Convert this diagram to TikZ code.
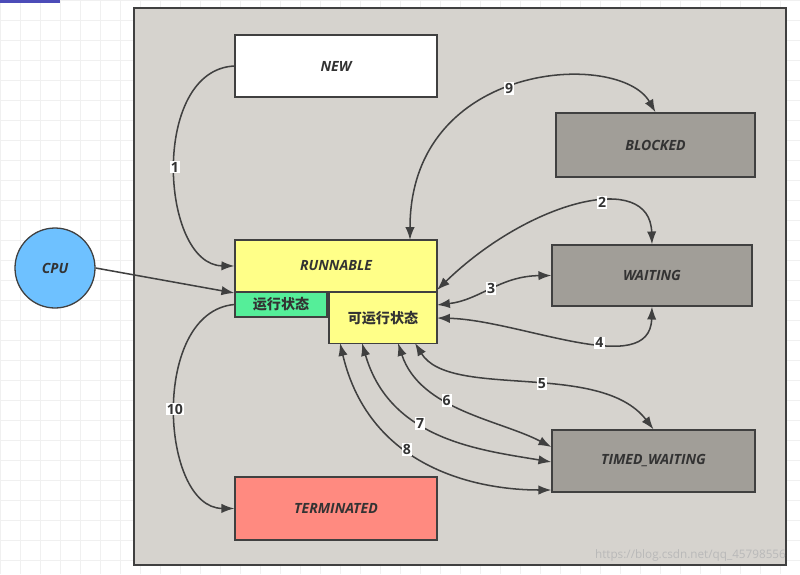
\documentclass[tikz,border=0pt]{standalone}
\usepackage{fontspec}
\setmainfont{Open Sans}
\newfontfamily\cjk{Noto Sans CJK SC}
\usetikzlibrary{arrows.meta}
\definecolor{frame}{HTML}{D6D3CE}
\definecolor{stategray}{HTML}{A19E98}
\definecolor{runyellow}{HTML}{FFFF88}
\definecolor{rungreen}{HTML}{55EE99}
\definecolor{termred}{HTML}{FF8A80}
\definecolor{cpublue}{HTML}{6EC1FF}
\tikzset{
  state/.style={draw=black!75, line width=1.1pt, font=\bfseries\itshape\large, text=black!80},
  flow/.style={draw=black!75, line width=1.3pt, -{Latex[length=11pt,width=8pt]}},
  both/.style={flow, {Latex[length=11pt,width=8pt]}-{Latex[length=11pt,width=8pt]}},
  num/.style={fill=white, inner sep=1pt, font=\bfseries\large, text=black!80}
}
\begin{document}
\begin{tikzpicture}[x=0.03cm, y=-0.03cm]
  \useasboundingbox (0,0) rectangle (800,574);
  % Raster
  \fill[white] (0,0) rectangle (800,574);
  \foreach \g in {0,20,...,800} \draw[black!6] (\g,0) -- (\g,574);
  \foreach \g in {0,20,...,560} \draw[black!6] (0,\g) -- (800,\g);
  \fill[blue!60!black!70] (0,0) rectangle (60,3);
  % Rahmen
  \draw[black!75, line width=1.1pt, fill=frame] (134,8) rectangle (786,565);
  % Zustaende
  \node[state, fill=white, minimum width=202*0.03cm, minimum height=62*0.03cm] (new) at (336,66) {NEW};
  \node[state, fill=stategray, minimum width=199*0.03cm, minimum height=64*0.03cm] (blocked) at (655.5,145) {BLOCKED};
  \node[state, fill=stategray, minimum width=200*0.03cm, minimum height=61*0.03cm] (waiting) at (652,275.5) {WAITING};
  \node[state, fill=stategray, minimum width=203*0.03cm, minimum height=62*0.03cm] (timed) at (653.5,461) {TIMED\_WAITING};
  \node[state, fill=runyellow, minimum width=202*0.03cm, minimum height=52*0.03cm] (runnable) at (336,266) {RUNNABLE};
  \node[state, fill=rungreen, font=\cjk\bfseries\large, minimum width=92*0.03cm, minimum height=25*0.03cm, inner sep=0pt] (running) at (281,304.5) {运行状态};
  \node[state, fill=runyellow, font=\cjk\bfseries\large, minimum width=108*0.03cm, minimum height=51*0.03cm, inner sep=0pt] (ready) at (383,318) {可运行状态};
  \node[state, fill=termred, minimum width=202*0.03cm, minimum height=63*0.03cm] (terminated) at (336,508.5) {TERMINATED};
  \node[state, circle, fill=cpublue, minimum size=80*0.03cm] (cpu) at (55,268) {CPU};
  % Hilfspunkte
  \coordinate (r9) at (410,240);
  \coordinate (r2) at (437,290);
  \coordinate (r3) at (437,305);
  \coordinate (r4) at (437,318);
  \coordinate (r5) at (415,343);
  \coordinate (r6) at (398,343);
  \coordinate (r7) at (362,343);
  \coordinate (r8) at (340,343);
  % Uebergaenge
  \draw[flow] (new.west) .. controls (150,70) and (160,265) .. node[num, pos=0.5] {1} (runnable.west);
  \draw[flow] (cpu.east) -- (running.west|-0,293);
  \draw[flow] (running.west) .. controls (150,312) and (160,508) .. node[num, pos=0.5] {10} (terminated.west);
  \draw[both] (r9) .. controls (410,60) and (620,50) .. node[num, pos=0.47] {9} (blocked.north);
  \draw[both] (r2) .. controls (530,200) and (650,170) .. node[num, pos=0.6] {2} (waiting.north);
  \draw[both] (r3) .. controls (480,300) and (500,276) .. node[num, pos=0.5] {3} (waiting.west);
  \draw[both] (r4) .. controls (520,320) and (650,380) .. node[num, pos=0.6] {4} (waiting.south);
  \draw[both] (r5) .. controls (450,400) and (600,360) .. node[num, pos=0.55] {5} (timed.north);
  \draw[both] (r6) .. controls (420,410) and (500,420) .. node[num, pos=0.4] {6} (timed.west|-0,447);
  \draw[both] (r7) .. controls (390,440) and (480,450) .. node[num, pos=0.4] {7} (timed.west|-0,462);
  \draw[both] (r8) .. controls (370,470) and (480,490) .. node[num, pos=0.4] {8} (timed.west|-0,490);
  % Wasserzeichen
  \node[text=white!45!gray, anchor=east] (mark) at (790,555) {https://blog.csdn.net/qq\_45798556};
\end{tikzpicture}
\end{document}
